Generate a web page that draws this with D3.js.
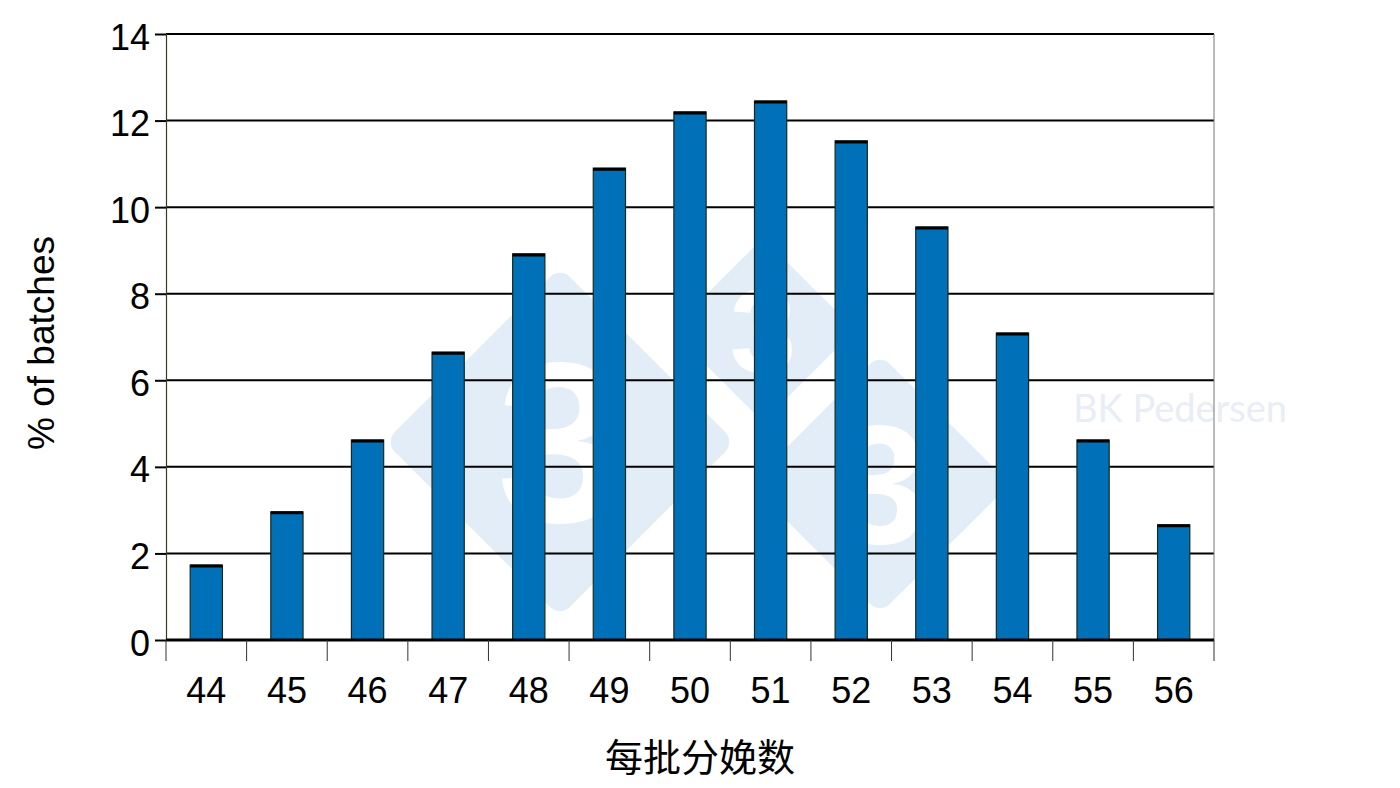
<!DOCTYPE html>
<html>
<head>
<meta charset="utf-8">
<script src="https://cdn.jsdelivr.net/npm/d3@7"></script>
<style>
  html, body { margin: 0; padding: 0; background: #fff; }
  svg { display: block; }
</style>
</head>
<body>
<svg id="chart" width="1400" height="788"></svg>
<script>
const categories = ["44","45","46","47","48","49","50","51","52","53","54","55","56"];
const values = [1.73, 2.96, 4.62, 6.65, 8.92, 10.9, 12.2, 12.45, 11.53, 9.54, 7.09, 4.62, 2.66];
const yTicks = [0, 2, 4, 6, 8, 10, 12, 14];
const yTitle = "% of batches";
const xTitle = "每批分娩数";
const watermarkText = "BK Pedersen";

const svg = d3.select("#chart");
const margin = {left: 166, right: 1400 - 1214, top: 34, bottom: 788 - 640};
const W = 1400, H = 788;

const x = d3.scaleBand().domain(categories).range([margin.left, W - margin.right]).paddingInner(0.6).paddingOuter(0.3);
const xb = d3.scaleBand().domain(categories).range([margin.left, W - margin.right]);
const y = d3.scaleLinear().domain([0, 14]).range([H - margin.bottom, margin.top]);

// watermark logo (diamonds)
const wm = svg.append("g").attr("fill", "#e3edf7");
const diamonds = [
  {cx: 560, cy: 442, r: 175},
  {cx: 763, cy: 330, r: 92},
  {cx: 880, cy: 484, r: 130}
];
diamonds.forEach(d => {
  const s = d.r * Math.SQRT2;
  wm.append("rect")
    .attr("x", d.cx - s/2).attr("y", d.cy - s/2)
    .attr("width", s).attr("height", s)
    .attr("rx", 14).attr("ry", 14)
    .attr("transform", `rotate(45 ${d.cx} ${d.cy})`);
});
diamonds.forEach(d => {
  wm.append("text")
    .attr("x", d.cx).attr("y", d.cy)
    .attr("text-anchor", "middle").attr("dominant-baseline", "central")
    .attr("font-family", "Liberation Sans, Arial, sans-serif")
    .attr("font-weight", "bold")
    .attr("font-size", d.r * 1.3)
    .attr("fill", "#ffffff")
    .text("3");
});
svg.append("text")
  .attr("x", 1180).attr("y", 422)
  .attr("text-anchor", "middle")
  .attr("font-family", "Lato, 'Open Sans', sans-serif")
  .attr("font-size", 38)
  .attr("fill", "#e9edf6")
  .text(watermarkText);

// gridlines
svg.append("g").selectAll("line").data(yTicks.filter(t => t > 0)).join("line")
  .attr("x1", margin.left).attr("x2", W - margin.right)
  .attr("y1", d => y(d)).attr("y2", d => y(d))
  .attr("stroke", "#000").attr("stroke-width", 2);

// right frame
svg.append("line")
  .attr("x1", W - margin.right).attr("x2", W - margin.right)
  .attr("y1", y(14)).attr("y2", y(0))
  .attr("stroke", "#777").attr("stroke-width", 1);

// bars
const bars = svg.append("g");
bars.selectAll("rect").data(values).join("rect")
  .attr("x", (d, i) => x(categories[i]))
  .attr("y", d => y(d))
  .attr("width", x.bandwidth())
  .attr("height", d => y(0) - y(d))
  .attr("fill", "#0070b8")
  .attr("stroke", "#1a2a1a").attr("stroke-width", 1.2);
bars.selectAll("line").data(values).join("line")
  .attr("x1", (d, i) => x(categories[i]))
  .attr("x2", (d, i) => x(categories[i]) + x.bandwidth())
  .attr("y1", d => y(d) + 1).attr("y2", d => y(d) + 1)
  .attr("stroke", "#000").attr("stroke-width", 3);

// y axis
const yAxis = d3.axisLeft(y).tickValues(yTicks).tickSize(11).tickPadding(5).tickFormat(d3.format("d"));
const gy = svg.append("g").attr("transform", `translate(${margin.left},0)`).call(yAxis);
gy.select(".domain").attr("stroke", "#3a3a20").attr("stroke-width", 1.2);
gy.selectAll(".tick line").attr("stroke", "#000").attr("stroke-width", 2);
gy.selectAll(".tick text")
  .attr("font-family", "Liberation Sans, Arial, sans-serif")
  .attr("font-size", 36).attr("fill", "#000").attr("dy", "0.42em");

// x axis
svg.append("line")
  .attr("x1", margin.left).attr("x2", W - margin.right)
  .attr("y1", y(0)).attr("y2", y(0))
  .attr("stroke", "#000").attr("stroke-width", 3);
const bounds = categories.map(c => xb(c)).concat([xb(categories[categories.length-1]) + xb.bandwidth()]);
svg.append("g").selectAll("line").data(bounds).join("line")
  .attr("x1", d => d).attr("x2", d => d)
  .attr("y1", y(0)).attr("y2", y(0) + 21)
  .attr("stroke", "#333").attr("stroke-width", 1);
svg.append("g").selectAll("text").data(categories).join("text")
  .attr("x", d => xb(d) + xb.bandwidth()/2)
  .attr("y", 703)
  .attr("text-anchor", "middle")
  .attr("font-family", "Liberation Sans, Arial, sans-serif")
  .attr("font-size", 36).attr("fill", "#000")
  .text(d => d);

// titles
svg.append("text")
  .attr("transform", "translate(54,343) rotate(-90)")
  .attr("text-anchor", "middle")
  .attr("font-family", "Liberation Sans, Arial, sans-serif")
  .attr("font-size", 37).attr("fill", "#000")
  .text(yTitle);
svg.append("text")
  .attr("x", 700).attr("y", 771)
  .attr("text-anchor", "middle")
  .attr("font-family", "'Noto Sans CJK SC', sans-serif")
  .attr("font-size", 38).attr("fill", "#000")
  .text(xTitle);
</script>
</body>
</html>
